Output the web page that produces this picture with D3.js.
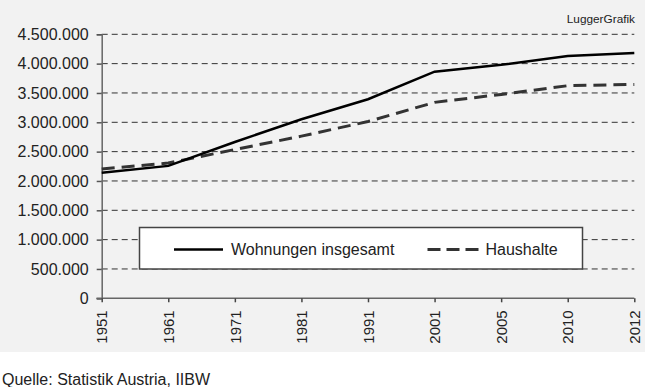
<!DOCTYPE html>
<html>
<head>
<meta charset="utf-8">
<script src="https://cdn.jsdelivr.net/npm/d3@7"></script>
<style>
body { margin: 0; background: #fff; }
text { font-family: "Liberation Sans", Arial, sans-serif; }
</style>
</head>
<body>
<div id="chart"></div>
<script>
var years = ["1951", "1961", "1971", "1981", "1991", "2001", "2005", "2010", "2012"];
var wohnungen = [2142000, 2257000, 2665000, 3052000, 3393000, 3863000, 3980000, 4130000, 4180000];
var haushalte = [2205000, 2305000, 2536000, 2764000, 3013000, 3340000, 3475000, 3624000, 3645000];
var yTicks = [0, 500000, 1000000, 1500000, 2000000, 2500000, 3000000, 3500000, 4000000, 4500000];

var svg = d3.select("#chart").append("svg")
	.attr("width", 657)
	.attr("height", 387);

svg.append("rect")
	.attr("x", 0).attr("y", 0)
	.attr("width", 645).attr("height", 352)
	.style("fill", "#f2f2f2");

var x = d3.scalePoint().domain(years).range([101.7, 634.3]);
var y = d3.scaleLinear().domain([0, 4500000]).range([298.3, 34.3]);

var fmt = function (d) { return d3.format(",")(d).replace(/,/g, "."); };

// gridlines
svg.selectAll("line.grid")
	.data(yTicks.filter(function (d) { return d > 0; }))
	.enter()
	.append("line")
	.attr("class", "grid")
	.attr("x1", 101.7)
	.attr("x2", 634.3)
	.attr("y1", function (d) { return y(d); })
	.attr("y2", function (d) { return y(d); })
	.style("stroke", "#333")
	.style("stroke-width", 1)
	.style("stroke-dasharray", "6,4");

// y axis
var yAxis = svg.append("g")
	.attr("transform", "translate(101.7,0)")
	.call(d3.axisLeft(y).tickValues(yTicks).tickFormat(fmt).tickSize(5).tickPadding(8));
yAxis.select(".domain").style("stroke", "#666").style("stroke-width", 1.5);
yAxis.selectAll(".tick line").style("stroke", "#555").style("stroke-width", 1.5);
yAxis.selectAll("text")
	.style("font-size", "16px")
	.style("fill", "#222");

// x axis
var xAxis = svg.append("g")
	.attr("transform", "translate(0,298.3)")
	.call(d3.axisBottom(x).tickSize(4).tickSizeOuter(0));
xAxis.select(".domain").attr("d", "M96.5,0H634.3").style("stroke", "#666").style("stroke-width", 1.5);
xAxis.selectAll(".tick line").style("stroke", "#444").style("stroke-width", 1.5);
xAxis.selectAll("text")
	.attr("transform", "rotate(-90)")
	.attr("x", -12)
	.attr("y", 0)
	.attr("dy", "0.35em")
	.style("text-anchor", "end")
	.style("font-size", "15px")
	.style("fill", "#222");

var line = d3.line()
	.x(function (d, i) { return x(years[i]); })
	.y(function (d) { return y(d); });

svg.append("path")
	.datum(haushalte)
	.attr("d", line)
	.style("fill", "none")
	.style("stroke", "#333")
	.style("stroke-width", 3)
	.style("stroke-dasharray", "13,7");

svg.append("path")
	.datum(wohnungen)
	.attr("d", line)
	.style("fill", "none")
	.style("stroke", "#000")
	.style("stroke-width", 2.5);

// legend
var legend = svg.append("g");
legend.append("rect")
	.attr("x", 139.5).attr("y", 227.5)
	.attr("width", 443).attr("height", 41.5)
	.style("fill", "#fff")
	.style("stroke", "#444")
	.style("stroke-width", 1.5);
legend.append("line")
	.attr("x1", 174).attr("x2", 223)
	.attr("y1", 249.5).attr("y2", 249.5)
	.style("stroke", "#000").style("stroke-width", 2.5);
legend.append("text")
	.attr("x", 231).attr("y", 255)
	.style("font-size", "16px").style("fill", "#222")
	.text("Wohnungen insgesamt");
legend.append("line")
	.attr("x1", 427.5).attr("x2", 479)
	.attr("y1", 249.5).attr("y2", 249.5)
	.style("stroke", "#333").style("stroke-width", 3)
	.style("stroke-dasharray", "13,6");
legend.append("text")
	.attr("x", 485.5).attr("y", 255)
	.style("font-size", "16px").style("fill", "#222")
	.text("Haushalte");

svg.append("text")
	.attr("x", 635).attr("y", 23)
	.style("text-anchor", "end")
	.style("font-size", "11.8px")
	.style("fill", "#222")
	.text("LuggerGrafik");

svg.append("text")
	.attr("x", 2).attr("y", 385)
	.style("font-size", "16px")
	.style("fill", "#222")
	.text("Quelle: Statistik Austria, IIBW");
</script>
</body>
</html>
